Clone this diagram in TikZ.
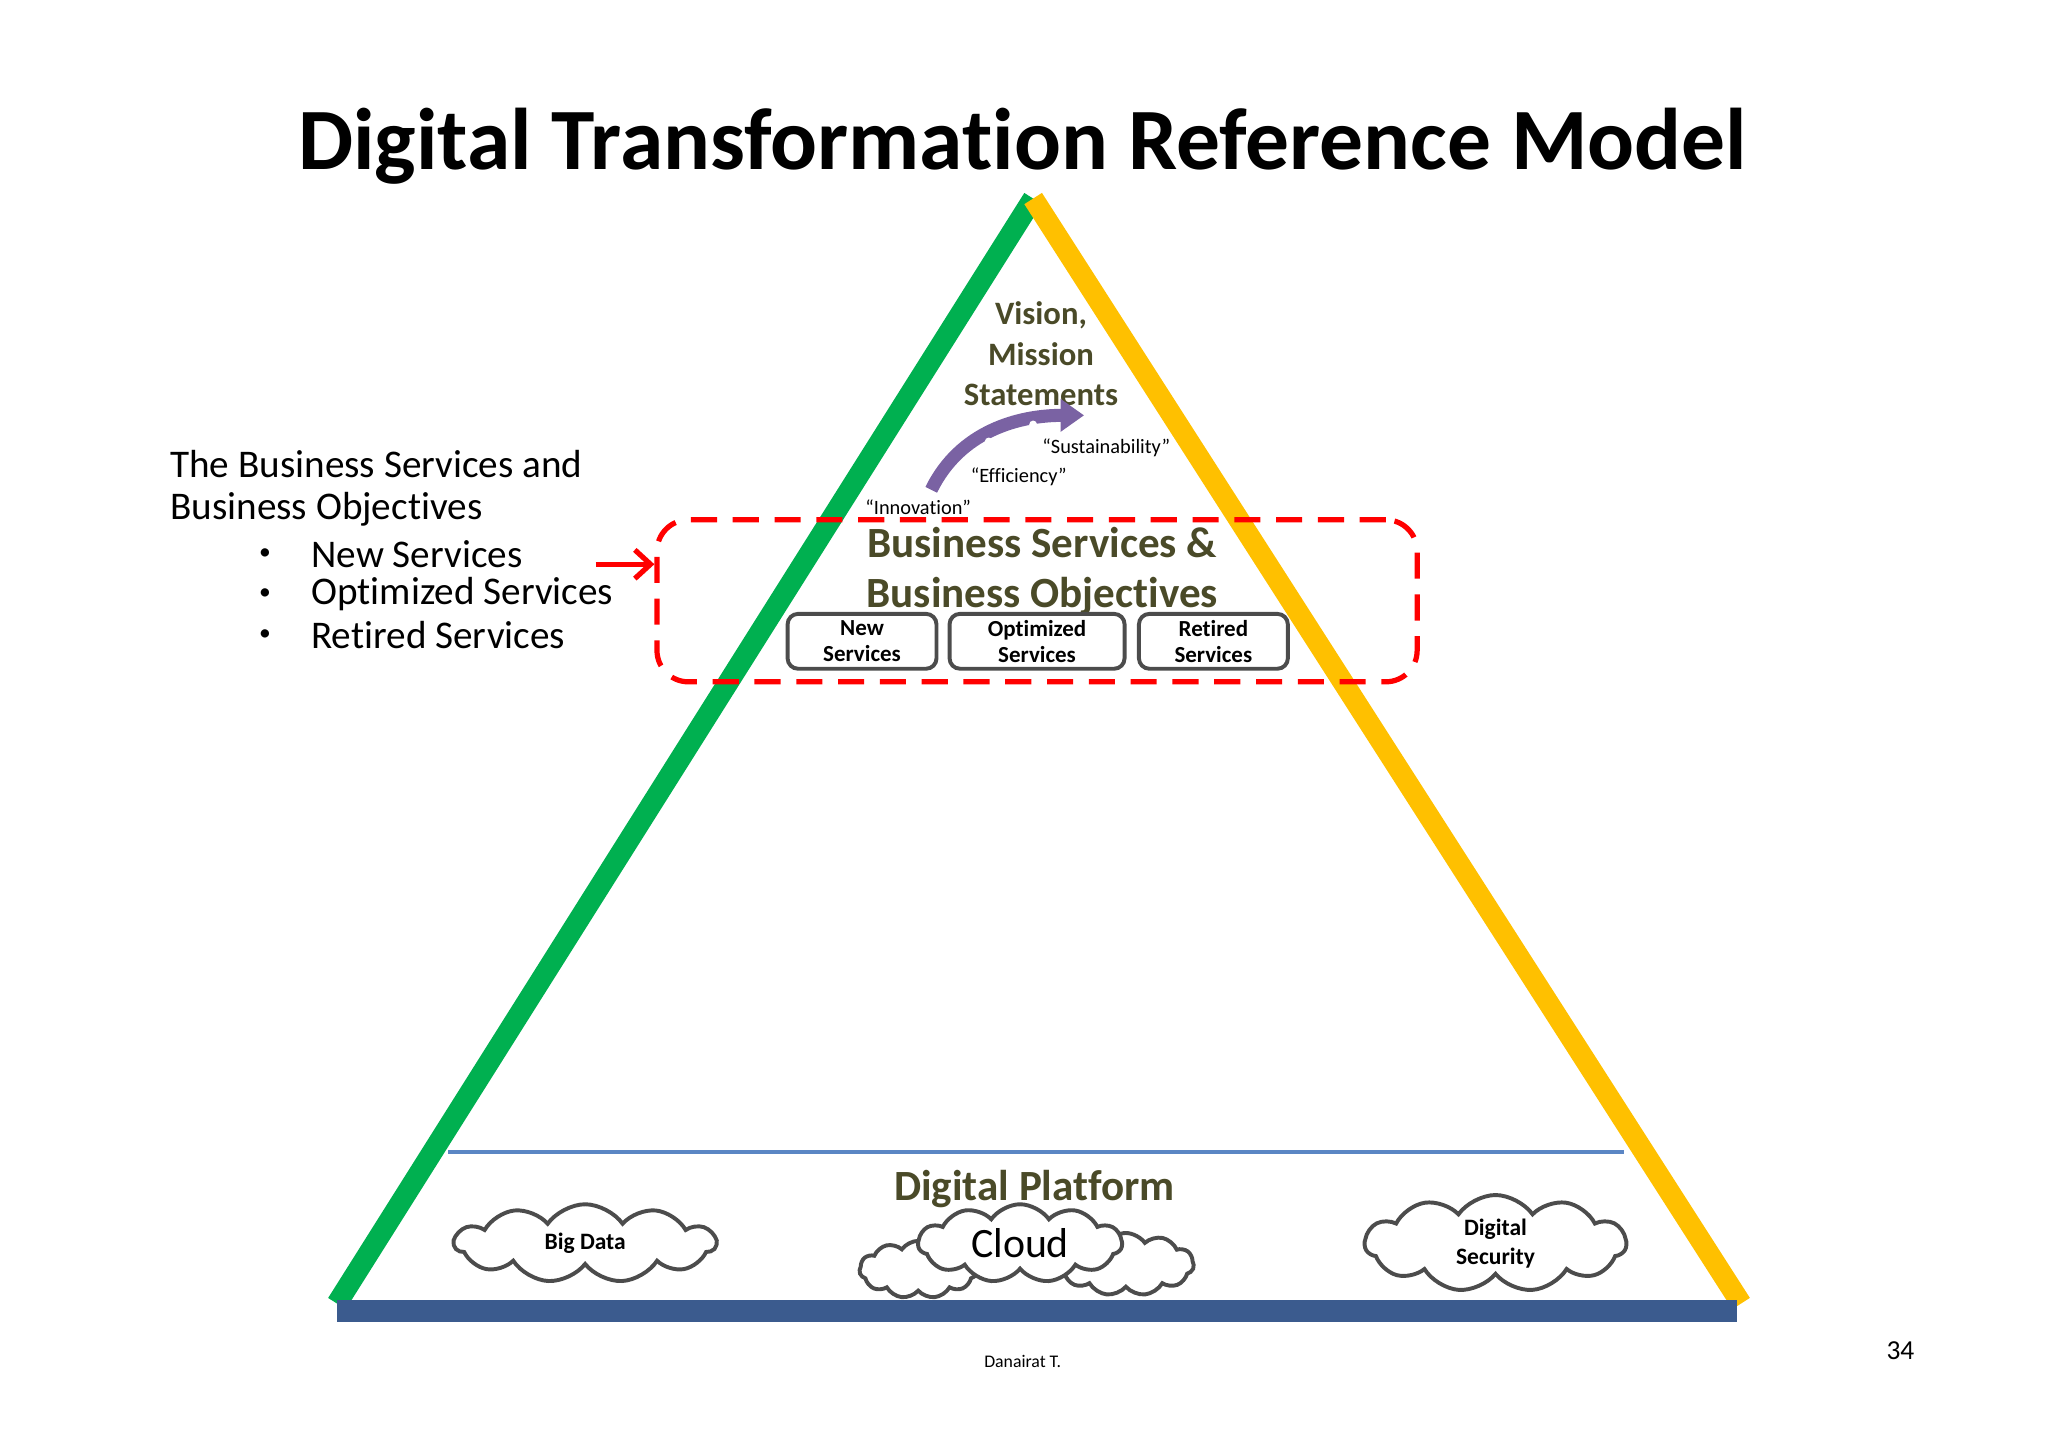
\documentclass[tikz,border=0pt]{standalone}
\usepackage{fontspec}
\setmainfont{Carlito}[Ligatures=NoCommon]
\usetikzlibrary{shapes.symbols,arrows.meta}
\definecolor{olv}{HTML}{4A4A28}
\definecolor{grn}{HTML}{00B050}
\definecolor{ylw}{HTML}{FFC000}
\definecolor{bbar}{HTML}{3B5B8E}
\definecolor{bln}{HTML}{5B86C4}
\definecolor{prp}{HTML}{7A62A3}
\tikzset{
 svc/.style={draw=black!70,line width=1.5pt,rounded corners=4pt,minimum width=57pt,minimum height=21pt,font=\bfseries\fontsize{8.8}{10}\selectfont,align=center,inner sep=0pt},
 cld/.style={cloud,cloud puffs=11,cloud puff arc=110,draw=black!70,line width=1.5pt,fill=white,aspect=3,align=center,inner sep=0pt},
 hd/.style={text=olv,font=\bfseries\fontsize{16.5}{17}\selectfont},
 qt/.style={font=\fontsize{7.8}{8}\selectfont},
 lt/.style={anchor=west,inner sep=1pt,font=\fontsize{15}{16}\selectfont}
}
\begin{document}
\begin{tikzpicture}[x=0.5pt,y=-0.5pt]
\useasboundingbox (0,0) rectangle (1568,1108);
\node[font=\bfseries\fontsize{33.5}{34}\selectfont] (title) at (783,112) {Digital Transformation Reference Model};
% triangle
\coordinate (bl) at (258,998); \coordinate (apx) at (791,152); \coordinate (br) at (1333,998);
\draw[grn,line width=8pt] (bl) -- (apx);
\draw[ylw,line width=8pt] (apx) -- (br);
\draw[bln,line width=1.5pt] (343,882) -- (1243,882);
\fill[bbar] (258,995) rectangle (1330,1012);
% vision
\node[hd,font=\bfseries\fontsize{12.5}{15.5}\selectfont,align=center] (vis) at (797,271) {Vision,\\Mission\\Statements};
\draw[prp,line width=5pt,-{Triangle[length=9pt,width=12pt]}] (713,375) .. controls (735,330) and (780,318) .. (830,318);
\fill[white] (757,338) circle (3); \fill[white] (791,325) circle (3);
\node[qt] (q1) at (847,343) {“Sustainability”};
\node[qt] (q2) at (780,365) {“Efficiency”};
\node[qt] (q3) at (703,388) {“Innovation”};
% business services
\node[hd] (bs1) at (798,415) {Business Services \&};
\node[hd] (bs2) at (798,456) {Business Objectives};
\node[svc] (n1) at (660,491) {New\\Services};
\node[svc,minimum width=67pt] (n2) at (794,491) {Optimized\\Services};
\node[svc] (n3) at (929,491) {Retired\\Services};
\node[draw=red,dashed,dash pattern=on 10pt off 6pt,line width=2pt,rounded corners=12pt,minimum width=291pt,minimum height=62pt] (box) at (794,460) {};
\coordinate (arrs) at (456,432);
\draw[red,line width=2pt,-{Straight Barb[length=6pt,width=11pt]}] (arrs) -- (box.west |- arrs);
% left text
\node[lt] (l1) at (128,355) {The Business Services and};
\node[lt] (l2) at (128,390) {Business Objectives};
\foreach \y/\t in {424/New Services,455/Optimized Services,486/Retired Services}{
 \node[lt,font=\fontsize{9}{10}\selectfont] at (196,\y) {•};
 \node[lt] at (236,\y) {\t};}
% platform
\node[hd] (dp) at (792,910) {Digital Platform};
\node[cld,minimum width=100pt,minimum height=30pt,font=\bfseries\fontsize{9}{9}\selectfont] (bd) at (448,952) {Big Data};
\node[cld,minimum width=45pt,minimum height=22pt] (c1) at (703,972) {};
\node[cld,minimum width=52pt,minimum height=24pt] (c2) at (862,968) {};
\node[cld,minimum width=78pt,minimum height=30pt,font=\fontsize{16}{16}\selectfont] (cl) at (781,952) {Cloud};
\node[cld,minimum width=100pt,minimum height=30pt,font=\bfseries\fontsize{9}{11}\selectfont] (ds) at (1145,952) {Digital\\Security};
\node[font=\fontsize{6.8}{7}\selectfont] (auth) at (783,1042) {Danairat T.};
\node[font=\fontsize{10.5}{11}\selectfont] (pg) at (1455,1034) {34};
\end{tikzpicture}
\end{document}
